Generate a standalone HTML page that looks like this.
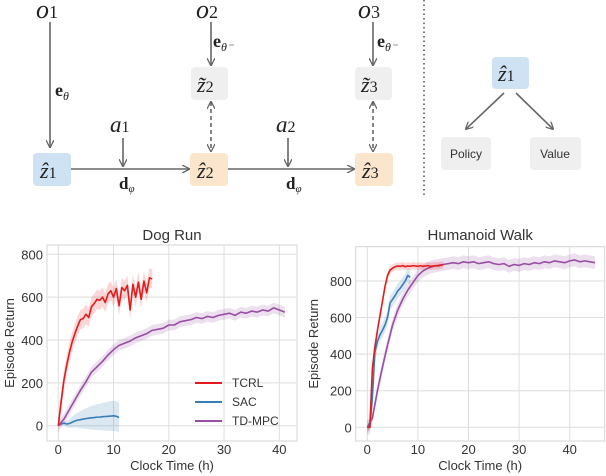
<!DOCTYPE html>
<html><head><meta charset="utf-8"><style>
html,body{margin:0;padding:0;background:#fff;}
svg{display:block;font-family:"Liberation Sans",sans-serif;}
.m{font-family:"Liberation Serif",serif;font-style:italic;fill:#222;}
.b{font-family:"Liberation Serif",serif;font-weight:bold;fill:#222;}
</style></head><body>
<svg id="fig" width="606" height="476" viewBox="0 0 606 476">
<defs>
<marker id="ah" markerWidth="8" markerHeight="8" refX="7" refY="4" orient="auto" markerUnits="userSpaceOnUse"><path d="M0,0 L8,4 L0,8" fill="none" stroke="#666" stroke-width="1.3"/></marker>
<marker id="ahs" markerWidth="8" markerHeight="8" refX="1" refY="4" orient="auto" markerUnits="userSpaceOnUse"><path d="M8,0 L0,4 L8,8" fill="none" stroke="#666" stroke-width="1.3"/></marker>
</defs>
<g stroke="#666" stroke-width="1.6" fill="none">
<line x1="50" y1="22" x2="50" y2="147" marker-end="url(#ah)"/>
<line x1="211" y1="22" x2="211" y2="65" marker-end="url(#ah)"/>
<line x1="373" y1="22" x2="373" y2="65" marker-end="url(#ah)"/>
<line x1="211" y1="102" x2="211" y2="151" stroke-dasharray="4,3" marker-start="url(#ahs)" marker-end="url(#ah)"/>
<line x1="373" y1="102" x2="373" y2="151" stroke-dasharray="4,3" marker-start="url(#ahs)" marker-end="url(#ah)"/>
<line x1="123" y1="138" x2="123" y2="166" marker-end="url(#ah)"/>
<line x1="288" y1="138" x2="288" y2="166" marker-end="url(#ah)"/>
<line x1="71" y1="169" x2="189" y2="169" marker-end="url(#ah)"/>
<line x1="228" y1="169" x2="354" y2="169" marker-end="url(#ah)"/>
<line x1="504" y1="93" x2="466" y2="129" marker-end="url(#ah)"/>
<line x1="516" y1="93" x2="553" y2="129" marker-end="url(#ah)"/>
<line x1="424" y1="0" x2="424" y2="195" stroke="#333" stroke-width="1.3" stroke-dasharray="1.5,3"/>
</g>
<g>
<rect x="33" y="153" width="38" height="33" rx="4" fill="#cfe2f3"/>
<rect x="190" y="153" width="38" height="33" rx="4" fill="#fce5cd"/>
<rect x="355" y="153" width="38" height="33" rx="4" fill="#fce5cd"/>
<rect x="191" y="67" width="37" height="33" rx="4" fill="#efefef"/>
<rect x="355" y="67" width="37" height="33" rx="4" fill="#efefef"/>
<rect x="492" y="57" width="37" height="32" rx="4" fill="#cfe2f3"/>
<rect x="441" y="137" width="50" height="33" rx="4" fill="#efefef"/>
<rect x="530" y="137" width="51" height="33" rx="4" fill="#efefef"/>
</g>
<g>
<text class="m" x="36" y="18" font-size="26">o<tspan font-style="normal" font-size="18">1</tspan></text>
<text class="m" x="196" y="18" font-size="26">o<tspan font-style="normal" font-size="18">2</tspan></text>
<text class="m" x="358" y="18" font-size="26">o<tspan font-style="normal" font-size="18">3</tspan></text>
<text class="b" x="55" y="96" font-size="18">e<tspan class="m" font-weight="normal" font-size="12" dy="4">θ</tspan></text>
<text class="b" x="213" y="47" font-size="18">e<tspan class="m" font-weight="normal" font-size="12" dy="4">θ⁻</tspan></text>
<text class="b" x="377" y="47" font-size="18">e<tspan class="m" font-weight="normal" font-size="12" dy="4">θ⁻</tspan></text>
<text class="m" x="110" y="132" font-size="23">a<tspan font-style="normal" font-size="16">1</tspan></text>
<text class="m" x="276" y="132" font-size="23">a<tspan font-style="normal" font-size="16">2</tspan></text>
<text class="b" x="119" y="189" font-size="17">d<tspan class="m" font-weight="normal" font-size="11" dy="3">φ</tspan></text>
<text class="b" x="286" y="189" font-size="17">d<tspan class="m" font-weight="normal" font-size="11" dy="3">φ</tspan></text>
<text class="m" x="40" y="178" font-size="22">ẑ<tspan font-style="normal" font-size="16">1</tspan></text>
<text class="m" x="197" y="178" font-size="22">ẑ<tspan font-style="normal" font-size="16">2</tspan></text>
<text class="m" x="362" y="178" font-size="22">ẑ<tspan font-style="normal" font-size="16">3</tspan></text>
<text class="m" x="197" y="92" font-size="22">z̃<tspan font-style="normal" font-size="16">2</tspan></text>
<text class="m" x="361" y="92" font-size="22">z̃<tspan font-style="normal" font-size="16">3</tspan></text>
<text class="m" x="498" y="81" font-size="22">ẑ<tspan font-style="normal" font-size="16">1</tspan></text>
<text x="466" y="158" font-size="12" text-anchor="middle" fill="#333">Policy</text>
<text x="555" y="158" font-size="12" text-anchor="middle" fill="#333">Value</text>
</g>
<g id="charts"></g>
</svg>
<script>
const dogTicksX=[0,10,20,30,40];
const dogTicksY=[0,200,400,600,800];
const humTicksX=[0,10,20,30,40];
const humTicksY=[0,200,400,600,800];
const dogTcrlStep=0.5;
const dogTcrl=[0,110,210,280,340,390,430,465,495,500,520,505,555,570,590,585,600,575,615,630,600,640,560,645,630,655,540,660,600,670,590,675,620,690,685];
const dogSacStep=0.5;
const dogSac=[0,8,12,8,10,16,22,26,28,31,33,35,37,38,40,40,42,43,44,45,46,44,38];
const dogSacBand=[0,5,10,15,20,25,30,35,40,45,48,52,55,58,60,62,64,66,68,70,70,70,70];
const dogTdStep=1;
const dogTd=[0,30,75,120,165,205,250,275,300,330,355,375,385,395,410,420,430,445,450,455,470,470,485,490,495,505,500,510,505,515,520,525,515,530,525,535,530,540,535,550,540,530];
const humTcrlStep=0.5;
const humTcrl=[0,0,320,440,530,610,690,770,830,860,870,878,882,880,884,878,882,880,884,882,880,884,880,882,884,880,882,884,882,886,888];
const humSacStep=0.5;
const humSac=[0,0,160,410,470,505,530,560,600,680,700,720,745,760,780,800,830,820];
const humTdStep=1;
const humTd=[0,50,200,330,450,560,640,700,750,790,830,855,870,880,885,890,895,900,895,905,900,905,895,900,905,895,890,895,880,890,885,895,890,900,895,905,900,910,905,900,910,915,905,910,905,900];

const NS="http://www.w3.org/2000/svg";
const root=document.getElementById('charts');
function mk(tag,attrs,parent){const e=document.createElementNS(NS,tag);for(const k in attrs)e.setAttribute(k,attrs[k]);(parent||root).appendChild(e);return e;}

function panel(p){
  const g=mk('g',{});
  
  
  const sx=v=>p.x0+v*p.kx, sy=v=>p.y0-v*p.ky;
  const bg=mk('rect',{x:p.L,y:p.T,width:p.R-p.L,height:p.B-p.T,fill:'#fff',stroke:'#d5d5d5','stroke-width':1},g);
  
  
  p.tx.forEach(t=>{
    mk('line',{x1:sx(t),x2:sx(t),y1:p.T,y2:p.B,stroke:'#dedede','stroke-width':1},g);
    const l=mk('text',{x:sx(t),y:p.B+13,'font-size':13,'text-anchor':'middle',fill:'#333'},g);
    
    
    l.textContent=t;
  });
  p.ty.forEach(t=>{
    mk('line',{x1:p.L,x2:p.R,y1:sy(t),y2:sy(t),stroke:'#dedede','stroke-width':1},g);
    const l=mk('text',{x:p.L-4,y:sy(t)+5,'font-size':13,'text-anchor':'end',fill:'#333'},g);
    
    
    l.textContent=t;
  });
  const ti=mk('text',{x:(p.L+p.R)/2,y:240,'font-size':15,'text-anchor':'middle',fill:'#333'},g);
  
  
  ti.textContent=p.title;
  const xl=mk('text',{x:(p.L+p.R)/2,y:470,'font-size':13,'text-anchor':'middle',fill:'#333'},g);
  
  
  xl.textContent='Clock Time (h)';
  const yl=mk('text',{x:0,y:0,'font-size':13,'text-anchor':'middle',fill:'#333',transform:`translate(${p.yx},${(p.T+p.B)/2}) rotate(-90)`},g);
  
  
  yl.textContent='Episode Return';
  p.series.forEach(s=>{
    const pts=s.v.map((v,i)=>[sx(i*s.step),sy(v)]);
    const up=s.v.map((v,i)=>[sx(i*s.step),sy(v+(s.band?s.band[i]:s.bw))]);
    const dn=s.v.map((v,i)=>[sx(i*s.step),sy(v-(s.band?s.band[i]:s.bw))]).reverse();
    const bd=mk('polygon',{points:up.concat(dn).map(q=>q.join(',')).join(' '),fill:s.c,'fill-opacity':0.18,stroke:'none'},g);
    
    
    const ln=mk('polyline',{points:pts.map(q=>q.join(',')).join(' '),fill:'none',stroke:s.c,'stroke-width':1.6,'stroke-linejoin':'round'},g);
    
    
  });
  return g;
}
const RED='#e41a1c',BLUE='#377eb8',PUR='#984ea3';
panel({name:'dog-run-chart',title:'Dog Run',L:47,R:297,T:245,B:441,x0:58.3,kx:5.525,y0:425.7,ky:0.21425,yx:14,tx:dogTicksX,ty:dogTicksY,
 series:[{n:'dog-sac',v:dogSac,step:dogSacStep,band:dogSacBand,c:BLUE},{n:'dog-tdmpc',v:dogTd,step:dogTdStep,bw:25,c:PUR},{n:'dog-tcrl',v:dogTcrl,step:dogTcrlStep,bw:45,c:RED}]});
panel({name:'humanoid-walk-chart',title:'Humanoid Walk',L:355.7,R:604.7,T:246.7,B:441,x0:367.3,kx:5.06,y0:427.3,ky:0.1829,yx:318,tx:humTicksX,ty:humTicksY,
 series:[{n:'hum-tdmpc',v:humTd,step:humTdStep,bw:35,c:PUR},{n:'hum-sac',v:humSac,step:humSacStep,bw:40,c:BLUE},{n:'hum-tcrl',v:humTcrl,step:humTcrlStep,bw:20,c:RED}]});
const leg=mk('g',{});


[['TCRL',RED,383],['SAC',BLUE,402],['TD-MPC',PUR,421]].forEach(e=>{
  const it=mk('g',{},leg);
  
  
  mk('line',{x1:195,x2:222,y1:e[2],y2:e[2],stroke:e[1],'stroke-width':2},it);
  const t=mk('text',{x:232,y:e[2]+4,'font-size':12,fill:'#333'},it);
  t.textContent=e[0];
});
</script>
</body></html>
